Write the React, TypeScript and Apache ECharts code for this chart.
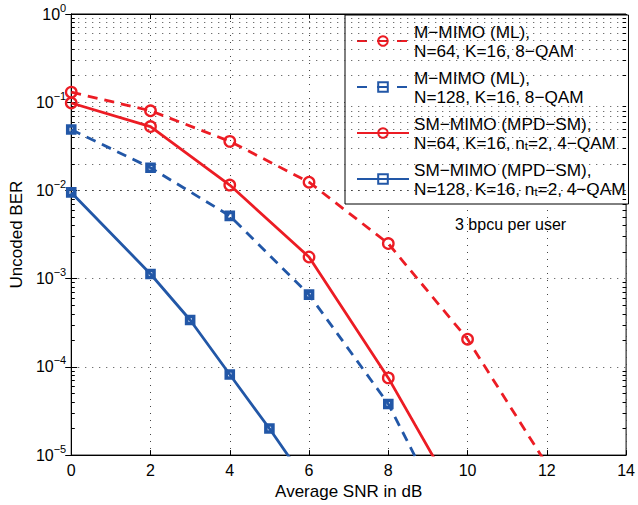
import React, { useEffect, useRef } from "react";
import * as echarts from "echarts";

// SNR points (dB)
const snrEven = [0, 2, 4, 6, 8, 10, 12];
const snrSm128 = [0, 2, 3, 4, 5, 6];

// Uncoded BER per curve
const berMimo64 = [0.13, 0.08, 0.036, 0.0124, 0.0025, 2.06e-4, 7.8e-6];
const berMimo128 = [0.049, 0.0181, 0.00515, 6.6e-4, 3.8e-5, 6.6e-7];
const berSm64 = [0.098, 0.053, 0.0115, 0.00176, 7.5e-5, 2.0e-6];
const berSm128 = [0.0095, 0.00113, 3.4e-4, 8.2e-5, 2.0e-5, 4.5e-6];

const seriesNames = [
  "M-MIMO (ML), N=64",
  "M-MIMO (ML), N=128",
  "SM-MIMO (MPD-SM), N=64",
  "SM-MIMO (MPD-SM), N=128",
];
const legendTexts = [
  "M\u2212MIMO (ML),\nN=64, K=16, 8\u2212QAM",
  "M\u2212MIMO (ML),\nN=128, K=16, 8\u2212QAM",
  "SM\u2212MIMO (MPD\u2212SM),\nN=64, K=16, n{sub|t}=2, 4\u2212QAM",
  "SM\u2212MIMO (MPD\u2212SM),\nN=128, K=16, n{sub|t}=2, 4\u2212QAM",
];

const X_MIN = 0;
const X_MAX = 14;
const X_STEP = 2;
const Y_MIN = 1e-5;
const Y_MAX = 1;
const minorMultipliers = [2, 3, 4, 5, 6, 7, 8, 9];
const decades = [-5, -4, -3, -2, -1];

const RED = "#EC1C24";
const BLUE = "#2257A7";
const FONT = "'Liberation Sans', Arial, Helvetica, sans-serif";

function toPoints(xs: number[], ys: number[]) {
  return ys.map((y, i) =>
    y < Y_MIN ? { value: [xs[i], y], symbol: "none" } : { value: [xs[i], y] }
  );
}

export default function App() {
  const ref = useRef<HTMLDivElement>(null);

  useEffect(() => {
    if (!ref.current) return;
    const chart = echarts.init(ref.current, null, { renderer: "svg" });

    const minorValues: number[] = [];
    decades.forEach((d) =>
      minorMultipliers.forEach((m) => minorValues.push(m * Math.pow(10, d)))
    );
    const tickLen = 0.09;
    const minorTickSegments: any[] = [];
    minorValues.forEach((v) => {
      minorTickSegments.push([
        { coord: [X_MIN, v], lineStyle: { type: "solid", color: "#000" } },
        { coord: [X_MIN + tickLen, v] },
      ]);
      minorTickSegments.push([
        { coord: [X_MAX - tickLen, v], lineStyle: { type: "solid", color: "#000" } },
        { coord: [X_MAX, v] },
      ]);
    });

    const dotted = { color: "#444", width: 1, type: [1, 6] as any };

    const makeSeries = (
      name: string,
      xs: number[],
      ys: number[],
      color: string,
      dashed: boolean,
      square: boolean
    ) => ({
      name,
      type: "line",
      data: toPoints(xs, ys),
      clip: true,
      z: 5,
      symbol: square ? "rect" : "circle",
      symbolSize: square ? 7 : 10.5,
      lineStyle: { color, width: 2.8, type: dashed ? [10, 7] : "solid" },
      itemStyle: {
        color: "transparent",
        borderColor: color,
        borderWidth: square ? 3.6 : 2.3,
      },
    });

    const supFmt = (v: number) => {
      const e = Math.round(Math.log10(v));
      const s = e < 0 ? "\u2212" + String(-e) : String(e);
      return "10{sup|" + s + "}";
    };

    chart.setOption({
      animation: false,
      backgroundColor: "#fff",
      textStyle: { fontFamily: FONT },
      grid: {
        left: 71,
        right: 8,
        top: 14,
        bottom: 48,
        show: true,
        borderColor: "#000",
        borderWidth: 1,
      },
      xAxis: [
        {
          type: "value",
          min: X_MIN,
          max: X_MAX,
          interval: X_STEP,
          position: "bottom",
          name: "Average SNR in dB",
          nameLocation: "middle",
          nameGap: 25,
          nameTextStyle: { fontSize: 17, color: "#000", fontFamily: FONT },
          axisLine: { show: true, lineStyle: { color: "#000", width: 1 } },
          axisTick: { inside: true, length: 5, lineStyle: { color: "#000" } },
          axisLabel: { fontSize: 16, color: "#000", margin: 7, fontFamily: FONT },
          splitLine: { show: true, lineStyle: dotted },
        },
        {
          type: "value",
          min: X_MIN,
          max: X_MAX,
          interval: X_STEP,
          position: "top",
          axisLine: { show: true, lineStyle: { color: "#000", width: 1 } },
          axisTick: { inside: true, length: 5, lineStyle: { color: "#000" } },
          axisLabel: { show: false },
          splitLine: { show: false },
        },
      ],
      yAxis: [
        {
          type: "log",
          logBase: 10,
          min: Y_MIN,
          max: Y_MAX,
          position: "left",
          name: "Uncoded BER",
          nameLocation: "middle",
          nameGap: 46,
          nameTextStyle: { fontSize: 17, color: "#000", fontFamily: FONT },
          axisLine: { show: true, lineStyle: { color: "#000", width: 1 } },
          axisTick: { inside: true, length: 6, lineStyle: { color: "#000" } },
          axisLabel: {
            margin: 5,
            color: "#000",
            fontSize: 16,
            fontFamily: FONT,
            formatter: supFmt,
            rich: {
              sup: {
                fontSize: 11,
                color: "#000",
                fontFamily: FONT,
                padding: [0, 0, 13, 0],
              },
            },
          },
          splitLine: { show: true, lineStyle: dotted },
        },
        {
          type: "log",
          logBase: 10,
          min: Y_MIN,
          max: Y_MAX,
          position: "right",
          axisLine: { show: true, lineStyle: { color: "#000", width: 1 } },
          axisTick: { inside: true, length: 6, lineStyle: { color: "#000" } },
          axisLabel: { show: false },
          splitLine: { show: false },
        },
      ],
      legend: {
        orient: "vertical",
        left: 345,
        top: 15,
        padding: [7, 3, 6, 11],
        itemWidth: 52,
        itemHeight: 12,
        itemGap: 8,
        backgroundColor: "#fff",
        borderColor: "#000",
        borderWidth: 1,
        borderRadius: 0,
        data: seriesNames.map((n, i) =>
          i < 2 ? { name: n, lineStyle: { type: [10, 10] } } : { name: n }
        ),
        formatter: (name: string) => legendTexts[seriesNames.indexOf(name)],
        textStyle: {
          fontSize: 17.2,
          lineHeight: 19,
          color: "#000",
          fontFamily: FONT,
          rich: {
            sub: {
              fontSize: 11.5,
              lineHeight: 12,
              color: "#000",
              fontFamily: FONT,
              padding: [7, 0, 0, 0],
            },
          },
        },
      },
      graphic: [
        {
          type: "text",
          left: 455,
          top: 216,
          z: 2,
          style: {
            text: "3 bpcu per user",
            fontSize: 16,
            fontFamily: FONT,
            fill: "#000",
          },
        },
      ],
      series: [
        {
          type: "line",
          data: [[X_MIN, Y_MAX]],
          symbol: "none",
          silent: true,
          z: 1,
          lineStyle: { opacity: 0 },
          markLine: {
            silent: true,
            symbol: ["none", "none"],
            label: { show: false },
            lineStyle: dotted,
            data: [
              ...minorValues.map((v) => ({ yAxis: v })),
              ...minorTickSegments,
            ],
          },
        },
        makeSeries(seriesNames[0], snrEven, berMimo64, RED, true, false),
        makeSeries(seriesNames[1], snrEven, berMimo128, BLUE, true, true),
        makeSeries(seriesNames[2], snrEven, berSm64, RED, false, false),
        makeSeries(seriesNames[3], snrSm128, berSm128, BLUE, false, true),
      ],
    });

    return () => chart.dispose();
  }, []);

  return (
    <div
      ref={ref}
      style={{ position: "fixed", left: 0, top: 0, width: 638, height: 505 }}
    />
  );
}
